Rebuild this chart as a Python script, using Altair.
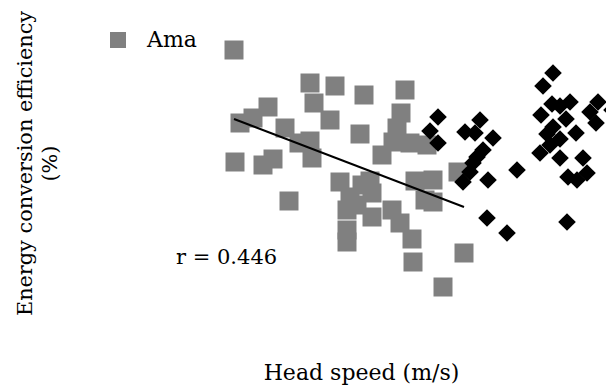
import altair as alt
import pandas as pd

# Head speed (arbitrary picture units) and energy conversion efficiency (picture units)
ama_speed = [234, 310, 335, 364, 405, 314, 268, 253, 240, 285, 330, 401, 360, 397, 393,
             410, 427, 382, 299, 310, 312, 235, 263, 273, 289, 340, 370, 415, 433, 458,
             350, 372, 347, 372, 392, 400, 425, 433, 347, 347, 412, 413, 464, 443, 357, 362]
ama_eff = [337, 304, 301, 292, 297, 284, 280, 269, 264, 259, 267, 274, 253, 259, 245,
           244, 242, 232, 244, 246, 229, 225, 222, 228, 186, 205, 206, 206, 207, 215,
           190, 194, 177, 170, 177, 164, 187, 185, 157, 145, 148, 125, 134, 100, 182, 202]

pro_speed = [438, 430, 438, 465, 480, 475, 493, 483, 477, 473, 470, 463, 488, 517, 487, 507,
             553, 543, 552, 541, 560, 570, 566, 547, 560, 576, 540, 560, 583, 568, 577, 587,
             567, 598, 590, 596, 612, 550, 553]
pro_eff = [270, 256, 244, 255, 267, 254, 249, 237, 230, 224, 215, 205, 207, 217, 169, 154,
           314, 301, 283, 272, 281, 285, 268, 253, 248, 254, 234, 229, 229, 210, 207, 214,
           165, 285, 275, 264, 277, 242, 260]

# regression line of Ama (endpoints)
fit_speed = [234, 464]
fit_eff = [268, 180]

r_label = ["r = 0.446"]
r_pos = [(176, 123)]

FONT = "DejaVu Serif"
FS = 22

ama = pd.DataFrame({"speed": ama_speed, "eff": ama_eff, "group": "Ama"})
pro = pd.DataFrame({"speed": pro_speed, "eff": pro_eff, "group": "Pro"})
fit = pd.DataFrame({"speed": fit_speed, "eff": fit_eff})
ann = pd.DataFrame({"speed": [p[0] for p in r_pos], "eff": [p[1] for p in r_pos], "label": r_label})

xs = alt.Scale(domain=[8, 606], nice=False, zero=False)
ys = alt.Scale(domain=[8, 379], nice=False, zero=False)

xax = alt.Axis(title="Head speed (m/s)", domain=False, ticks=False, labels=False, grid=False,
               titleFont=FONT, titleFontSize=FS, titleFontWeight="normal", titleColor="black",
               titleX=353, titleY=0, titleBaseline="alphabetic", titleAlign="center")
yax = alt.Axis(title=["Energy conversion efficiency", "(%)"], domain=False, ticks=False,
               labels=False, grid=False, titleFont=FONT, titleFontSize=20.8,
               titleFontWeight="normal", titleColor="black", titleX=23, titleY=155,
               titleBaseline="alphabetic", titleAlign="center", titleLineHeight=25, titleAngle=270)

color = alt.Color("group:N", scale=alt.Scale(domain=["Ama", "Pro"], range=["#808080", "#000000"]),
                  legend=alt.Legend(title=None, values=["Ama"], orient="none", legendX=99,
                                    legendY=21, symbolType="square", symbolSize=256,
                                    labelFont=FONT, labelFontSize=FS, labelColor="black",
                                    labelOffset=18, symbolStrokeWidth=0, padding=0))

pts_a = alt.Chart(ama).mark_square(size=361, opacity=1).encode(
    x=alt.X("speed:Q", scale=xs, axis=xax), y=alt.Y("eff:Q", scale=ys, axis=yax), color=color)
pts_p = alt.Chart(pro).mark_point(shape="diamond", filled=True, size=310, opacity=1).encode(
    x=alt.X("speed:Q", scale=xs), y=alt.Y("eff:Q", scale=ys), color=color)
line = alt.Chart(fit).mark_line(color="black", strokeWidth=2).encode(
    x=alt.X("speed:Q", scale=xs), y=alt.Y("eff:Q", scale=ys))
txt = alt.Chart(ann).mark_text(font=FONT, fontSize=21, align="left", baseline="alphabetic",
                               color="black").encode(
    x=alt.X("speed:Q", scale=xs), y=alt.Y("eff:Q", scale=ys), text="label:N")

chart = alt.layer(pts_a, pts_p, line, txt).properties(
    width=598, height=371,
    autosize=alt.AutoSizeParams(type="none"),
    padding={"left": 0, "top": 0, "right": 0, "bottom": 8},
).configure_view(stroke=None)

chart.save("out.html", embed_options={"renderer": "svg", "actions": False})
